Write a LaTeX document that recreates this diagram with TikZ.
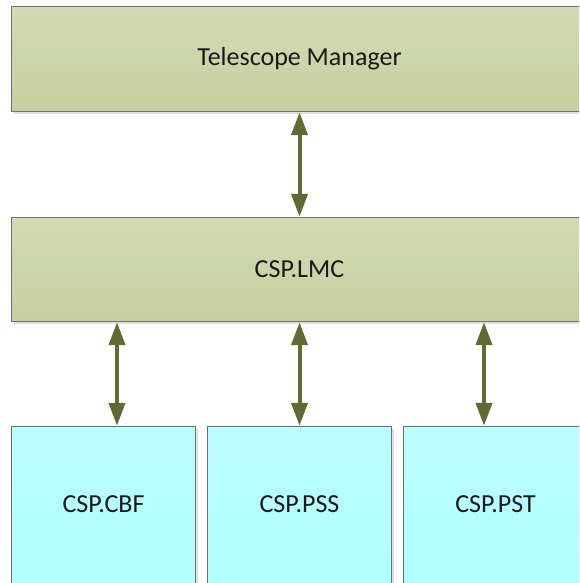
\documentclass[tikz,border=0pt]{standalone}
\usepackage{fontspec}
\setmainfont{Carlito}
\usetikzlibrary{arrows.meta}
\definecolor{olivetop}{HTML}{D3DAB4}
\definecolor{olivebot}{HTML}{C6CFA0}
\definecolor{cyantop}{HTML}{BCFDFF}
\definecolor{cyanbot}{HTML}{B0FFFF}
\definecolor{boxline}{HTML}{6F6F6F}
\definecolor{arrowcol}{HTML}{5F6B33}
\tikzset{
  box/.style={inner sep=0pt, font=\fontsize{26}{30}\selectfont, text=black!90},
  boxedge/.style={draw=boxline, line width=0.9pt},
  olivefill/.style={boxedge, top color=olivetop, bottom color=olivebot},
  cyanfill/.style={boxedge, top color=cyantop, bottom color=cyanbot},
  shadowbox/.style={fill=black!12, draw=none},
  arr/.style={draw=arrowcol, line width=4pt, {Triangle[length=23pt,width=16pt]}-{Triangle[length=23pt,width=16pt]}, shorten <=1pt, shorten >=1pt}
}
\begin{document}
\begin{tikzpicture}[x=1pt,y=-1pt]
\path[use as bounding box, clip] (0,0) rectangle (579,583);
\fill[white] (0,0) rectangle (579,583);
% nodes (text and geometry)
\node[box, minimum width=575pt, minimum height=104pt] (tm) at (299.5,59) {};
\node[box, minimum width=575pt, minimum height=103pt] (lmc) at (299.5,269.5) {};
\node[box, minimum width=183pt, minimum height=160pt] (cbf) at (103.5,507) {};
\node[box, minimum width=183pt, minimum height=160pt] (pss) at (299.5,507) {};
\node[box, minimum width=183pt, minimum height=160pt] (pst) at (495.5,507) {};
% shadows
\fill[shadowbox] ([shift={(2,2)}]tm.north west) rectangle ([shift={(20,3)}]tm.south east);
\fill[shadowbox] ([shift={(2,2)}]lmc.north west) rectangle ([shift={(20,3)}]lmc.south east);
\fill[shadowbox] ([shift={(2,2)}]cbf.north west) rectangle ([shift={(3,3)}]cbf.south east);
\fill[shadowbox] ([shift={(2,2)}]pss.north west) rectangle ([shift={(3,3)}]pss.south east);
\fill[shadowbox] ([shift={(2,2)}]pst.north west) rectangle ([shift={(20,3)}]pst.south east);
% box bodies
\path[olivefill] (tm.north west) rectangle ([xshift=20pt]tm.south east);
\path[olivefill] (lmc.north west) rectangle ([xshift=20pt]lmc.south east);
\path[cyanfill] (cbf.north west) rectangle (cbf.south east);
\path[cyanfill] (pss.north west) rectangle (pss.south east);
\path[cyanfill] (pst.north west) rectangle ([xshift=20pt]pst.south east);
% texts
\node[box] at (tm) {Telescope Manager};
\node[box] at (lmc) {CSP.LMC};
\node[box] at ([yshift=3pt]cbf.center) {CSP.CBF};
\node[box] at ([yshift=3pt]pss.center) {CSP.PSS};
\node[box] at ([yshift=3pt]pst.center) {CSP.PST};
% arrows
\draw[arr] (tm.south) -- (lmc.north);
\draw[arr] (cbf.north -| 117,0) -- (lmc.south -| 117,0);
\draw[arr] (pss.north) -- (lmc.south);
\draw[arr] (pst.north -| 484,0) -- (lmc.south -| 484,0);
\end{tikzpicture}
\end{document}
